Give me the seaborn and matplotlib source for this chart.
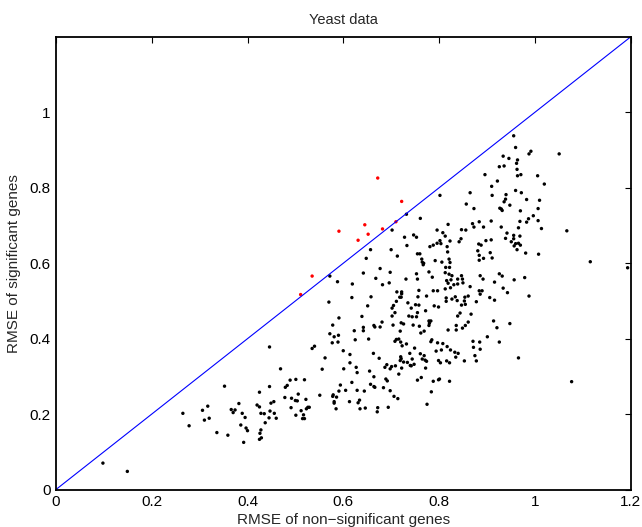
import numpy as np
import pandas as pd
import matplotlib
matplotlib.use("Agg")
import matplotlib.pyplot as plt
import seaborn as sns

# ---------------- data ----------------
title = "Yeast data"
xlabel = "RMSE of non\u2212significant genes"
ylabel = "RMSE of significant genes"
xticks = [0, 0.2, 0.4, 0.6, 0.8, 1.0, 1.2]
yticks = [0, 0.2, 0.4, 0.6, 0.8, 1.0]
diag_x = [0.0, 1.2]
diag_y = [0.0, 1.2]

# genes whose RMSE is above the diagonal (red)
red_points = [
    (0.672, 0.826), (0.722, 0.764), (0.645, 0.702), (0.591, 0.685), (0.682, 0.691),
    (0.652, 0.677), (0.631, 0.661), (0.710, 0.710), (0.535, 0.566), (0.511, 0.517),
]

# all other genes (black)
black_points = [
    (0.098, 0.070), (0.149, 0.048),
    (0.446, 0.378), (0.469, 0.320), (0.352, 0.274), (0.446, 0.273), (0.425, 0.258), (0.489, 0.290),
    (0.501, 0.292), (0.479, 0.271), (0.483, 0.276), (0.506, 0.253), (0.478, 0.244), (0.492, 0.242),
    (0.500, 0.236), (0.504, 0.235), (0.382, 0.228), (0.420, 0.224), (0.425, 0.219), (0.449, 0.229),
    (0.455, 0.233), (0.317, 0.221), (0.306, 0.210), (0.265, 0.202), (0.366, 0.212), (0.370, 0.204),
    (0.374, 0.211), (0.389, 0.202), (0.428, 0.202), (0.435, 0.201), (0.447, 0.208), (0.456, 0.202),
    (0.491, 0.217), (0.501, 0.197), (0.320, 0.189), (0.310, 0.184), (0.395, 0.191), (0.445, 0.190),
    (0.460, 0.189), (0.437, 0.177), (0.278, 0.169), (0.386, 0.171), (0.397, 0.163), (0.400, 0.156),
    (0.428, 0.158), (0.426, 0.149), (0.336, 0.151), (0.359, 0.144), (0.425, 0.133), (0.429, 0.137),
    (0.392, 0.125),
    (0.570, 0.497), (0.535, 0.374), (0.540, 0.380), (0.562, 0.349), (0.556, 0.319), (0.519, 0.291),
    (0.522, 0.239), (0.551, 0.250), (0.512, 0.209), (0.523, 0.214), (0.526, 0.218), (0.529, 0.218),
    (0.517, 0.198), (0.515, 0.188), (0.519, 0.188),
    (0.802, 0.780), (0.732, 0.730), (0.761, 0.719), (0.819, 0.703), (0.702, 0.688), (0.796, 0.688),
    (0.808, 0.681), (0.813, 0.672), (0.747, 0.675), (0.753, 0.669), (0.728, 0.669), (0.733, 0.647),
    (0.781, 0.644), (0.788, 0.648), (0.796, 0.653), (0.802, 0.660), (0.804, 0.652), (0.823, 0.659),
    (0.842, 0.657), (0.817, 0.644), (0.657, 0.636), (0.700, 0.636), (0.818, 0.630), (0.755, 0.625),
    (0.760, 0.625), (0.648, 0.613), (0.713, 0.619), (0.764, 0.611), (0.765, 0.603), (0.768, 0.600),
    (0.767, 0.596), (0.792, 0.607), (0.806, 0.603), (0.821, 0.611), (0.823, 0.602), (0.822, 0.589),
    (0.814, 0.589), (0.677, 0.586), (0.813, 0.575), (0.779, 0.577), (0.698, 0.576), (0.642, 0.574),
    (0.753, 0.572), (0.572, 0.566), (0.668, 0.560), (0.786, 0.563), (0.821, 0.571), (0.827, 0.567),
    (0.731, 0.558), (0.755, 0.558), (0.825, 0.556), (0.816, 0.554), (0.839, 0.558), (0.588, 0.551),
    (0.619, 0.545), (0.682, 0.543), (0.696, 0.548), (0.819, 0.547), (0.831, 0.543), (0.839, 0.545),
    (0.722, 0.524), (0.722, 0.519), (0.712, 0.524), (0.797, 0.527), (0.788, 0.527), (0.758, 0.528),
    (0.813, 0.532), (0.824, 0.535), (0.721, 0.510), (0.718, 0.510), (0.658, 0.511), (0.618, 0.509),
    (0.711, 0.499), (0.756, 0.511), (0.774, 0.513), (0.815, 0.508), (0.815, 0.499), (0.827, 0.505),
    (0.834, 0.511), (0.838, 0.501), (0.735, 0.495), (0.751, 0.490), (0.758, 0.489), (0.790, 0.487),
    (0.799, 0.484), (0.705, 0.488), (0.702, 0.481), (0.651, 0.487), (0.742, 0.481), (0.772, 0.474),
    (0.708, 0.469), (0.755, 0.469), (0.737, 0.460), (0.744, 0.458), (0.702, 0.460), (0.839, 0.460),
    (0.844, 0.468), (0.639, 0.459), (0.753, 0.458), (0.591, 0.455), (0.681, 0.444), (0.779, 0.447),
    (0.780, 0.441), (0.783, 0.447), (0.779, 0.435), (0.721, 0.442), (0.726, 0.439), (0.746, 0.436),
    (0.759, 0.433), (0.704, 0.436), (0.664, 0.435), (0.666, 0.431), (0.677, 0.431), (0.642, 0.430),
    (0.578, 0.436), (0.836, 0.435),
    (0.572, 0.413), (0.581, 0.405), (0.590, 0.409), (0.623, 0.421), (0.642, 0.421), (0.719, 0.420),
    (0.762, 0.415), (0.769, 0.420), (0.819, 0.423), (0.836, 0.423), (0.577, 0.389), (0.589, 0.391),
    (0.625, 0.397), (0.653, 0.399), (0.708, 0.393), (0.711, 0.398), (0.716, 0.399), (0.720, 0.391),
    (0.723, 0.381), (0.732, 0.386), (0.785, 0.397), (0.783, 0.392), (0.797, 0.389), (0.808, 0.387),
    (0.817, 0.379), (0.600, 0.368), (0.663, 0.361), (0.749, 0.375), (0.739, 0.361), (0.761, 0.360),
    (0.769, 0.355), (0.805, 0.370), (0.794, 0.367), (0.824, 0.370), (0.833, 0.364), (0.840, 0.361),
    (0.614, 0.358), (0.675, 0.348), (0.720, 0.352), (0.721, 0.347), (0.719, 0.342), (0.726, 0.338),
    (0.744, 0.346), (0.765, 0.346), (0.771, 0.343), (0.774, 0.340), (0.734, 0.337), (0.740, 0.329),
    (0.748, 0.332), (0.742, 0.328), (0.709, 0.328), (0.701, 0.326), (0.698, 0.320), (0.687, 0.324),
    (0.691, 0.331), (0.799, 0.342), (0.803, 0.336), (0.816, 0.341), (0.822, 0.336), (0.835, 0.351),
    (0.614, 0.336), (0.601, 0.320), (0.627, 0.324), (0.629, 0.310), (0.722, 0.322), (0.772, 0.322),
    (0.655, 0.314), (0.716, 0.306), (0.664, 0.299), (0.689, 0.293), (0.692, 0.288), (0.755, 0.290),
    (0.763, 0.297), (0.799, 0.291), (0.801, 0.293), (0.788, 0.287), (0.822, 0.287), (0.618, 0.284),
    (0.594, 0.277), (0.657, 0.279), (0.664, 0.273), (0.666, 0.271), (0.684, 0.270), (0.605, 0.263),
    (0.591, 0.261), (0.629, 0.263), (0.644, 0.261), (0.698, 0.262), (0.784, 0.259), (0.579, 0.251),
    (0.578, 0.247), (0.586, 0.245), (0.706, 0.247), (0.714, 0.241), (0.613, 0.233), (0.631, 0.230),
    (0.634, 0.237), (0.581, 0.233), (0.581, 0.229), (0.775, 0.226), (0.585, 0.214), (0.635, 0.214),
    (0.646, 0.216), (0.672, 0.217), (0.671, 0.206), (0.694, 0.218),
    (0.956, 0.938), (0.960, 0.907), (0.988, 0.890), (0.992, 0.897), (1.051, 0.890), (0.934, 0.884),
    (0.946, 0.878), (0.964, 0.874), (0.962, 0.865), (0.926, 0.856), (0.936, 0.858), (0.963, 0.849),
    (0.896, 0.835), (0.971, 0.835), (0.964, 0.832), (1.006, 0.832), (0.922, 0.818), (1.020, 0.810),
    (0.910, 0.804), (0.960, 0.793), (0.972, 0.787), (0.865, 0.787), (0.940, 0.782), (0.911, 0.780),
    (0.983, 0.769), (1.010, 0.767), (0.936, 0.763), (0.939, 0.770), (0.857, 0.757), (0.948, 0.754),
    (0.873, 0.745), (0.927, 0.746), (0.930, 0.744), (0.932, 0.740), (1.007, 0.745), (0.970, 0.739),
    (0.997, 0.726), (0.987, 0.718), (0.983, 0.709), (1.007, 0.713), (0.969, 0.711), (0.909, 0.712),
    (0.884, 0.710), (0.870, 0.705), (0.873, 0.696), (0.893, 0.696), (0.930, 0.696), (0.966, 0.694),
    (1.014, 0.692), (0.847, 0.689), (0.856, 0.688), (1.067, 0.686), (0.942, 0.680), (0.956, 0.674),
    (0.969, 0.672), (0.939, 0.666), (0.956, 0.665), (0.909, 0.662), (0.898, 0.660), (0.846, 0.665),
    (0.951, 0.657), (0.960, 0.652), (0.966, 0.653), (0.970, 0.648), (0.957, 0.646), (0.883, 0.651),
    (0.888, 0.648), (0.963, 0.636), (0.881, 0.633), (0.907, 0.628), (0.981, 0.627), (1.008, 0.624),
    (0.884, 0.621), (0.884, 0.608), (0.911, 0.614), (0.893, 0.613), (0.926, 0.572), (0.932, 0.566),
    (0.886, 0.567), (0.892, 0.558), (0.847, 0.567), (0.849, 0.558), (0.850, 0.548), (0.979, 0.562),
    (0.957, 0.556), (0.916, 0.550), (0.865, 0.538), (0.934, 0.534), (0.943, 0.522), (0.884, 0.527),
    (0.890, 0.527), (0.886, 0.518),
    (0.861, 0.513), (0.854, 0.510), (0.853, 0.500), (0.855, 0.491), (0.847, 0.489), (0.878, 0.498),
    (0.906, 0.509), (0.916, 0.502), (0.988, 0.513), (0.867, 0.465), (0.861, 0.444), (0.855, 0.435),
    (0.849, 0.428), (0.914, 0.447), (0.921, 0.429), (0.948, 0.440), (0.871, 0.393), (0.885, 0.391),
    (0.901, 0.405), (0.926, 0.391), (0.872, 0.377), (0.886, 0.372), (0.875, 0.355), (0.853, 0.341),
    (0.878, 0.341), (0.966, 0.349),
    (1.116, 0.604), (1.194, 0.588), (1.077, 0.286),
]

# ---------------- plotting ----------------
sns.set_style("white")
plt.rcParams["font.family"] = ["Liberation Sans", "DejaVu Sans"]

blk = np.array(black_points)
red = np.array(red_points)
df = pd.DataFrame({
    "x": np.concatenate([blk[:, 0], red[:, 0]]),
    "y": np.concatenate([blk[:, 1], red[:, 1]]),
    "group": ["ns"] * len(blk) + ["sig"] * len(red),
})

fig = plt.figure(figsize=(6.42, 5.27), dpi=100)
ax = fig.add_axes([56 / 642, (527 - 489.5) / 527, 574.5 / 642, 452.5 / 527])

sns.lineplot(x=diag_x, y=diag_y, color="#0000ff", linewidth=0.8, ax=ax)
sns.scatterplot(data=df, x="x", y="y", hue="group",
                palette={"ns": "black", "sig": "red"},
                s=6, linewidth=0, legend=False, ax=ax)

ax.set_xlim(0, 1.2)
ax.set_ylim(0, 1.2)
ax.set_xticks(xticks)
ax.set_xticklabels(["0", "0.2", "0.4", "0.6", "0.8", "1", "1.2"])
ax.set_yticks(yticks)
ax.set_yticklabels(["0", "0.2", "0.4", "0.6", "0.8", "1"])
ax.tick_params(direction="in", top=True, right=True, length=4, width=0.8,
               labelsize=11, pad=4, colors="black")
for sp in ax.spines.values():
    sp.set_visible(True)
    sp.set_linewidth(1.3)
    sp.set_color("black")

ax.set_title(title, fontsize=10.5, pad=9)
ax.set_xlabel(xlabel, fontsize=11, labelpad=3)
ax.set_ylabel(ylabel, fontsize=11, labelpad=6)

fig.savefig("out.png", dpi=100)
